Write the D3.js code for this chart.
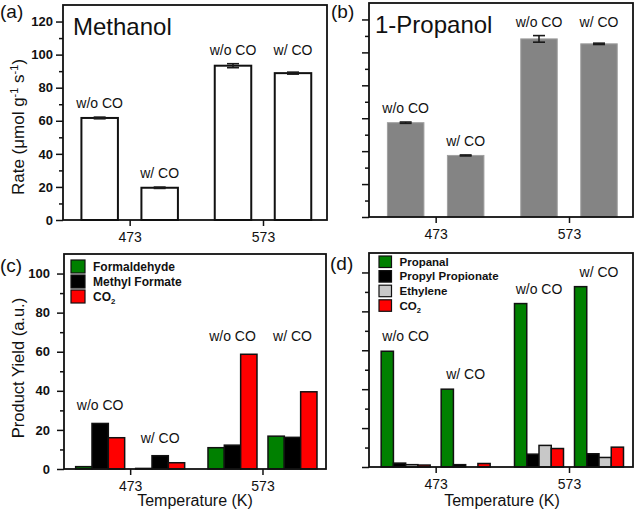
<!DOCTYPE html>
<html>
<head>
<meta charset="utf-8">
<script src="https://cdn.jsdelivr.net/npm/d3@7/dist/d3.min.js"></script>
<style>
  html, body { margin: 0; padding: 0; background: #fff; }
  svg { display: block; font-family: "Liberation Sans", Arial, sans-serif; }
</style>
</head>
<body>
<svg id="chart" width="638" height="515"></svg>
<script>
// ---------------- DATA ----------------
const temps = [473, 573];                 // x tick labels (K)
const conditions = ["w/o CO", "w/ CO"];

// (a) Methanol rate, indexed [temperature][condition]
const methanolRate    = [[61.7, 19.5], [93.3, 88.8]];
const methanolRateErr = [[0.5, 0.4],   [1.2, 0.6]];
// (b) 1-Propanol rate
const propanolRate    = [[57.3, 37.4], [108.2, 105.2]];
const propanolRateErr = [[0.4, 0.3],   [2.0, 0.4]];

// (c) Methanol products yield
const cSeries = ["Formaldehyde", "Methyl Formate", "CO2"];
const cFormaldehyde  = [[1.2, 0.3],  [10.9, 16.8]];
const cMethylFormate = [[23.3, 6.8], [12.2, 16.2]];
const cCO2           = [[16.0, 3.2], [58.7, 39.5]];

// (d) 1-Propanol products yield
const dSeries = ["Propanal", "Propyl Propionate", "Ethylene", "CO2"];
const dPropanal      = [[59.5, 40.0], [84.0, 92.7]];
const dPropylPropion = [[2.0, 1.2],   [6.6, 6.8]];
const dEthylene      = [[1.2, 0.0],   [11.1, 4.9]];
const dCO2           = [[1.0, 1.8],   [9.5, 10.2]];

const rateTicks  = [0, 20, 40, 60, 80, 100, 120];
const yieldTicks = [0, 20, 40, 60, 80, 100];

// ---------------- DRAW ----------------
const svg = d3.select("#chart");
const FONT = '"Liberation Sans", Arial, sans-serif';
const tempDomain = [423, 621];

function drawPanel(o) {
  const x = d3.scaleLinear().domain(tempDomain).range([o.l, o.r]);
  const y = d3.scaleLinear().domain([0, o.yMax]).range([o.b, o.t]);
  const cond = d3.scaleBand().domain(conditions).range([-60, 60]);
  const ser = d3.scaleBand().domain(o.series.map(s => s.name)).range([-o.groupW / 2, o.groupW / 2]);
  const g = svg.append("g");

  const recs = [];
  temps.forEach((t, ti) => conditions.forEach((c, ci) => o.series.forEach(s => {
    recs.push({
      t, c, name: s.name, v: s.values[ti][ci],
      e: s.errors ? s.errors[ti][ci] : 0,
      fill: s.fill, stroke: s.stroke, sw: s.sw
    });
  })));
  const cx = d => x(d.t) + cond(d.c) + cond.bandwidth() / 2;

  g.selectAll("rect.bar").data(recs.filter(d => d.v > 0)).join("rect")
    .attr("class", "bar")
    .attr("x", d => cx(d) + ser(d.name))
    .attr("width", ser.bandwidth())
    .attr("y", d => y(d.v))
    .attr("height", d => y(0) - y(d.v))
    .attr("fill", d => d.fill)
    .attr("stroke", d => d.stroke)
    .attr("stroke-width", d => d.sw);

  // error bars
  const eb = recs.filter(d => d.e > 0);
  const cap = 6;
  const ebg = g.selectAll("g.eb").data(eb).join("g").attr("class", "eb")
    .attr("stroke", "#1a1a1a").attr("stroke-width", 1.6);
  const ex = d => cx(d) + ser(d.name) + ser.bandwidth() / 2;
  ebg.append("line").attr("x1", ex).attr("x2", ex)
    .attr("y1", d => y(d.v + d.e)).attr("y2", d => y(d.v - d.e));
  ebg.append("line").attr("x1", d => ex(d) - cap).attr("x2", d => ex(d) + cap)
    .attr("y1", d => y(d.v + d.e)).attr("y2", d => y(d.v + d.e));
  ebg.append("line").attr("x1", d => ex(d) - cap).attr("x2", d => ex(d) + cap)
    .attr("y1", d => y(d.v - d.e)).attr("y2", d => y(d.v - d.e));

  // condition labels
  const tops = {};
  temps.forEach(t => conditions.forEach(c => {
    tops[t + c] = d3.max(recs.filter(d => d.t === t && d.c === c), d => d.v + d.e);
  }));
  const labels = [];
  temps.forEach(t => conditions.forEach(c => {
    let top = tops[t + c];
    if (o.sharedRow.includes(t)) top = d3.max(conditions, cc => tops[t + cc]);
    labels.push({ t, c, top });
  }));
  g.selectAll("text.cl").data(labels).join("text").attr("class", "cl")
    .attr("x", d => x(d.t) + cond(d.c) + cond.bandwidth() / 2)
    .attr("y", d => y(d.top) - o.labelOff)
    .attr("text-anchor", "middle")
    .attr("font-size", 14).attr("fill", "#111")
    .text(d => d.c);

  // y axis major + minor
  const yAx = g.append("g").attr("transform", `translate(${o.l},0)`)
    .call(d3.axisLeft(y).tickValues(o.ticks).tickSize(7).tickPadding(o.tickPad)
      .tickFormat(o.yLabels ? d3.format("d") : () => ""));
  yAx.select(".domain").remove();
  yAx.selectAll("line").attr("stroke", "#111").attr("stroke-width", 1.5);
  yAx.selectAll("text").attr("font-family", FONT).attr("font-size", 13)
    .attr("font-weight", "bold").attr("fill", "#111");
  const minor = o.ticks.slice(0, -1).map(v => v + 10).filter(v => v < o.yMax);
  const yMin = g.append("g").attr("transform", `translate(${o.l},0)`)
    .call(d3.axisLeft(y).tickValues(minor).tickSize(4).tickFormat(() => ""));
  yMin.select(".domain").remove();
  yMin.selectAll("line").attr("stroke", "#111").attr("stroke-width", 1.5);

  // x axis
  const xAx = g.append("g").attr("transform", `translate(0,${o.b})`)
    .call(d3.axisBottom(x).tickValues(temps).tickSize(6).tickPadding(6).tickFormat(d3.format("d")));
  xAx.select(".domain").remove();
  xAx.selectAll("line").attr("stroke", "#111").attr("stroke-width", 1.5);
  xAx.selectAll("text").attr("font-family", FONT).attr("font-size", 14).attr("fill", "#111");

  // frame
  g.append("rect").attr("x", o.l).attr("y", o.t)
    .attr("width", o.r - o.l).attr("height", o.b - o.t)
    .attr("fill", "none").attr("stroke", "#111").attr("stroke-width", 1.8);

  // panel letter
  svg.append("text").attr("x", o.letterX).attr("y", o.letterY)
    .attr("font-size", 19).attr("fill", "#111").text(o.letter);

  // title
  if (o.title) {
    svg.append("text").attr("x", o.l + o.titleDx).attr("y", o.t + 30)
      .attr("font-size", 24).attr("fill", "#111").text(o.title);
  }

  // legend
  if (o.legend) {
    const L = o.legend;
    const lg = g.selectAll("g.lg").data(o.series).join("g").attr("class", "lg")
      .attr("transform", (d, i) => `translate(${L.x},${L.y + i * L.step})`);
    lg.append("rect").attr("width", L.w).attr("height", L.h)
      .attr("fill", d => d.fill).attr("stroke", "#111").attr("stroke-width", 1.2);
    lg.each(function (d) {
      const tx = d3.select(this).append("text").attr("x", L.w + 8).attr("y", L.h / 2 + L.fs * 0.36)
        .attr("font-size", L.fs).attr("font-weight", "bold").attr("fill", "#111");
      if (d.name === "CO2") {
        tx.append("tspan").text("CO");
        tx.append("tspan").attr("font-size", L.fs * 0.65).attr("dy", 3).text("2");
      } else tx.text(d.name);
    });
  }
  return { x, y };
}

const bW = { fill: "#fff", stroke: "#111", sw: 2 };
drawPanel({
  l: 63, t: 5, r: 327, b: 220, yMax: 130, ticks: rateTicks, yLabels: true, tickPad: 3,
  groupW: 36.5, labelOff: 9, sharedRow: [573],
  series: [{ name: "rate", values: methanolRate, errors: methanolRateErr, ...bW }],
  letter: "(a)", letterX: 0, letterY: 18, title: "Methanol", titleDx: 10
});
drawPanel({
  l: 369, t: 3, r: 633, b: 217, yMax: 130, ticks: rateTicks, yLabels: false, tickPad: 3,
  groupW: 36.5, labelOff: 9, sharedRow: [573],
  series: [{ name: "rate", values: propanolRate, errors: propanolRateErr, fill: "#848484", stroke: "#a0a0a0", sw: 1 }],
  letter: "(b)", letterX: 331, letterY: 18, title: "1-Propanol", titleDx: 6
});
const cColors = { "Formaldehyde": "#008000", "Methyl Formate": "#000000", "CO2": "#ff0000" };
const cVals = { "Formaldehyde": cFormaldehyde, "Methyl Formate": cMethylFormate, "CO2": cCO2 };
drawPanel({
  l: 64, t: 254, r: 326, b: 469, yMax: 110, ticks: yieldTicks, yLabels: true, tickPad: 7,
  groupW: 49, labelOff: 13, sharedRow: [573],
  series: cSeries.map(n => ({ name: n, values: cVals[n], fill: cColors[n], stroke: "#111", sw: 1.5 })),
  letter: "(c)", letterX: 0, letterY: 272,
  legend: { x: 71, y: 260, step: 15, w: 14, h: 13, fs: 12 }
});
const dColors = { "Propanal": "#008000", "Propyl Propionate": "#000000", "Ethylene": "#c8c8c8", "CO2": "#ff0000" };
const dVals = { "Propanal": dPropanal, "Propyl Propionate": dPropylPropion, "Ethylene": dEthylene, "CO2": dCO2 };
drawPanel({
  l: 369, t: 253, r: 633, b: 467, yMax: 110, ticks: yieldTicks, yLabels: false, tickPad: 3,
  groupW: 49, labelOff: 10, sharedRow: [],
  series: dSeries.map(n => ({ name: n, values: dVals[n], fill: dColors[n], stroke: "#111", sw: 1.5 })),
  letter: "(d)", letterX: 330, letterY: 270,
  legend: { x: 379, y: 256, step: 14.6, w: 12.5, h: 11.5, fs: 11.5 }
});

// axis titles
const rt = svg.append("text").attr("transform", "translate(24,127) rotate(-90)")
  .attr("text-anchor", "middle").attr("font-size", 17).attr("fill", "#111");
rt.append("tspan").text("Rate (\u03bcmol g");
rt.append("tspan").attr("font-size", 11).attr("dy", -6).text("-1");
rt.append("tspan").attr("dy", 6).text(" s");
rt.append("tspan").attr("font-size", 11).attr("dy", -6).text("-1");
rt.append("tspan").attr("dy", 6).text(")");

svg.append("text").attr("transform", "translate(24,368) rotate(-90)")
  .attr("text-anchor", "middle").attr("font-size", 16.5).attr("fill", "#111")
  .text("Product Yield (a.u.)");
svg.append("text").attr("x", 195).attr("y", 506).attr("text-anchor", "middle")
  .attr("font-size", 16).attr("fill", "#111").text("Temperature (K)");
svg.append("text").attr("x", 502).attr("y", 506).attr("text-anchor", "middle")
  .attr("font-size", 16).attr("fill", "#111").text("Temperature (K)");
</script>
</body>
</html>
